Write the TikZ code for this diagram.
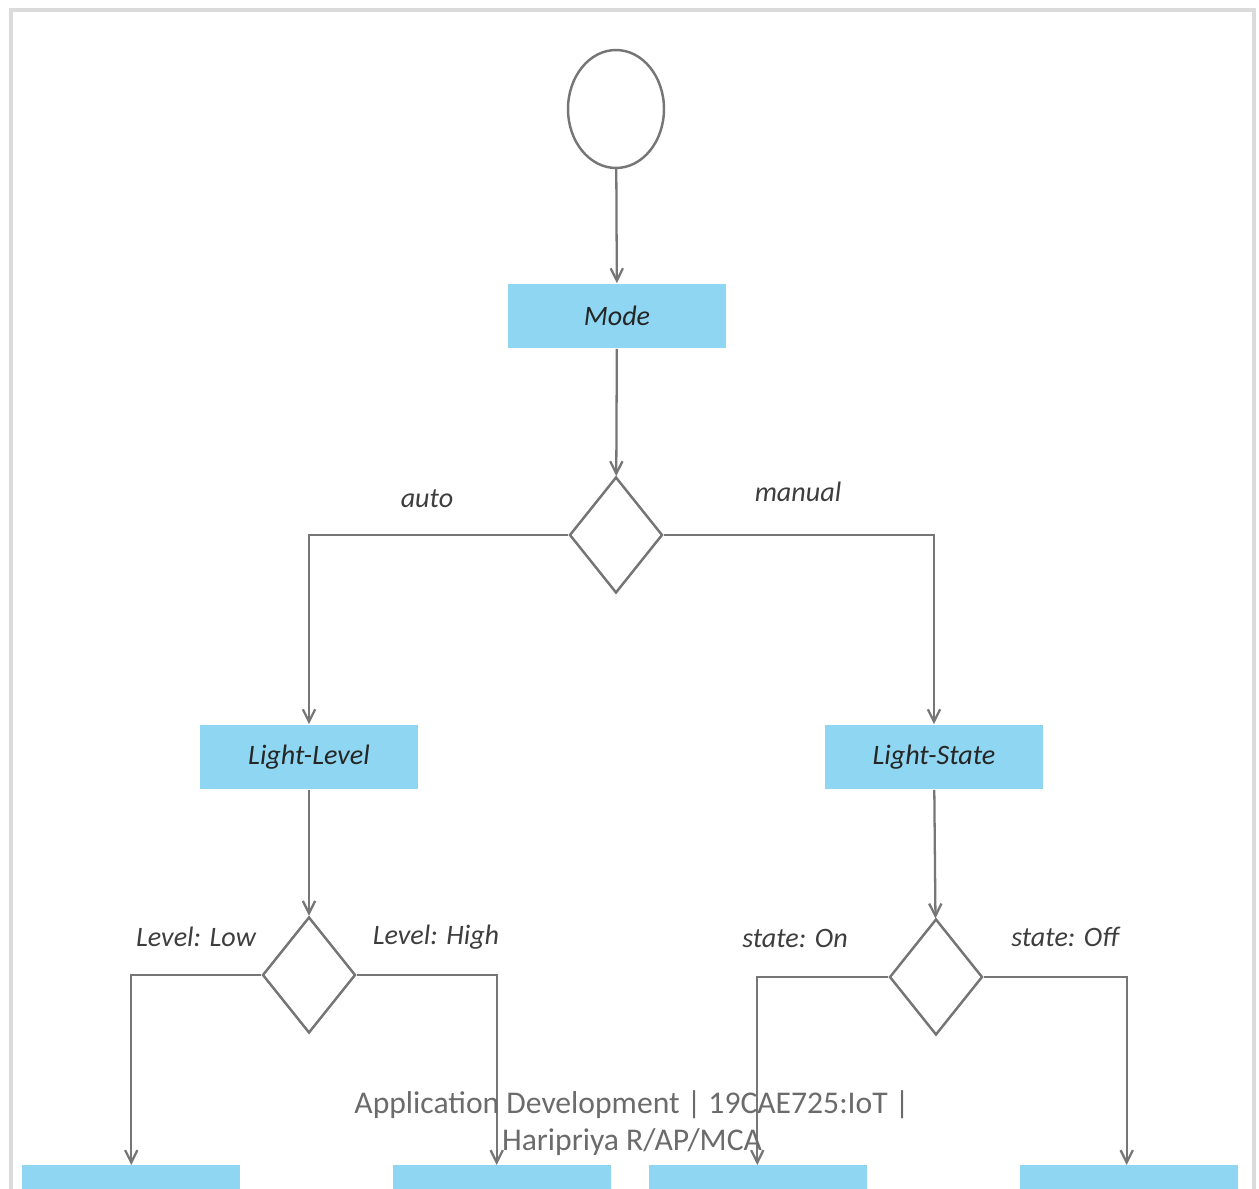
\documentclass[tikz,border=0pt]{standalone}
\usepackage{fontspec}
\setmainfont{Carlito}
\usetikzlibrary{shapes.geometric,arrows.meta}

\definecolor{boxblue}{RGB}{142,214,241}
\definecolor{linegray}{RGB}{118,118,118}
\definecolor{labelgray}{RGB}{62,62,62}

\begin{document}
\begin{tikzpicture}[x=0.02cm,y=-0.02cm,
  state/.style={rectangle,fill=boxblue,minimum width=4.37cm,minimum height=1.3cm,
    inner sep=0pt,font=\fontsize{16}{18}\selectfont\itshape,text=black!85},
  choice/.style={diamond,draw=linegray,line width=1.4pt,minimum width=1.86cm,
    minimum height=2.32cm,inner sep=0pt},
  flow/.style={draw=linegray,line width=1.3pt,-{Straight Barb[length=7pt,width=7pt]}},
  lbl/.style={font=\fontsize{16}{18}\selectfont\itshape,text=labelgray}]
\useasboundingbox (0,0) rectangle (1259,1189);
\clip (0,0) rectangle (1259,1189);

% frame
\draw[black!14,line width=2pt] (11,1250) -- (11,10) -- (1254,10) -- (1254,1250);

% start and mode
\node[ellipse,draw=linegray,line width=1.4pt,minimum width=1.92cm,minimum height=2.36cm] (start) at (616,109) {};
\node[state] (mode) at (617,316) {Mode};
\node[choice] (modechk) at (616,535) {};
\draw[flow] (start) -- (mode);
\draw[flow] (mode) -- (modechk);

% auto / manual branches
\node[state] (level) at (309,757) {Light-Level};
\node[state] (lstate) at (934,757) {Light-State};
\draw[flow] (modechk.west) -| (level.north);
\draw[flow] (modechk.east) -| (lstate.north);
\node[lbl] (auto) at (427,499) {auto};
\node[lbl] (manual) at (798,492) {manual};

% second level of choices
\node[choice] (levelchk) at (309,975) {};
\node[choice] (statechk) at (936,977) {};
\draw[flow] (level) -- (levelchk);
\draw[flow] (lstate) -- (statechk);
\node[lbl] (low) at (196,937) {Level: Low};
\node[lbl] (high) at (436,937) {Level: High};
\node[lbl] (on) at (795,938) {state: On};
\node[lbl] (off) at (1065,937) {state: Off};

% outcome boxes (cut by the page edge)
\node[state,anchor=north] (lowout) at (131,1165) {};
\node[state,anchor=north] (highout) at (502,1165) {};
\node[state,anchor=north] (onout) at (758,1165) {};
\node[state,anchor=north] (offout) at (1129,1165) {};
\draw[flow] (levelchk.west) -- ++(-130,0) coordinate (lowc) -- (lowc |- lowout.north);
\draw[flow] (levelchk.east) -- ++(140,0) coordinate (highc) -- (highc |- highout.north);
\draw[flow] (statechk.west) -- ++(-131,0) coordinate (onc) -- (onc |- onout.north);
\draw[flow] (statechk.east) -- ++(143,0) coordinate (offc) -- (offc |- offout.north);

% footer
\node[font=\fontsize{18}{21}\selectfont,text=black!58,align=center] (foot) at (632,1123)
  {Application Development | 19CAE725:IoT |\\Haripriya R/AP/MCA};
\end{tikzpicture}
\end{document}
